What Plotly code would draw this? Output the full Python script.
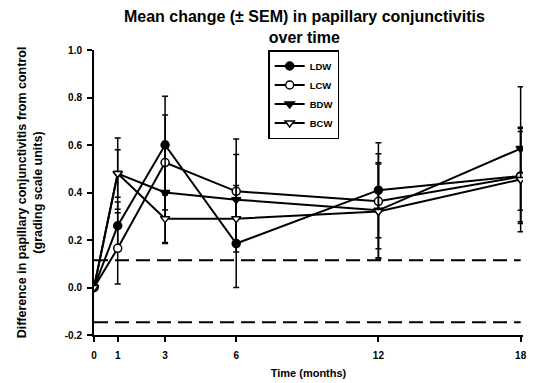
import plotly.graph_objects as go

months = [0, 1, 3, 6, 12, 18]
series_names = ["LDW", "LCW", "BDW", "BCW"]
ldw = [0.0, 0.26, 0.60, 0.185, 0.41, 0.47]
lcw = [0.0, 0.165, 0.526, 0.405, 0.363, 0.467]
bdw = [0.0, 0.48, 0.40, 0.37, 0.325, 0.585]
bcw = [0.0, 0.48, 0.29, 0.29, 0.32, 0.455]
ldw_sem = [0.0, 0.10, 0.205, 0.185, 0.20, 0.20]
lcw_sem = [0.0, 0.15, 0.20, 0.22, 0.20, 0.19]
bdw_sem = [0.0, 0.15, 0.215, 0.19, 0.20, 0.26]
bcw_sem = [0.0, 0.10, 0.10, 0.14, 0.20, 0.22]
upper_limit = 0.115
lower_limit = -0.146
y_ticks = [-0.2, 0.0, 0.2, 0.4, 0.6, 0.8, 1.0]
y_tick_labels = ["-0.2", "0.0", "0.2", "0.4", "0.6", "0.8", "1.0"]
x_ticks = [0, 1, 3, 6, 12, 18]

FONT = "Arial, Liberation Sans, sans-serif"
values = [ldw, lcw, bdw, bcw]
sems = [ldw_sem, lcw_sem, bdw_sem, bcw_sem]
symbols = ["circle", "circle", "triangle-down", "triangle-down"]
fills = ["black", "white", "black", "white"]

fig = go.Figure()
for name, v, s, sym, fc in zip(series_names, values, sems, symbols, fills):
    fig.add_trace(go.Scatter(
        x=months, y=v, name="<b>%s</b>" % name, mode="lines+markers",
        line=dict(color="black", width=2),
        marker=dict(symbol=sym, size=8, color=fc,
                    line=dict(color="black", width=1.5)),
        error_y=dict(type="data", array=s, visible=True, color="black",
                     thickness=1.5, width=3),
    ))

for yv in [upper_limit, lower_limit]:
    fig.add_trace(go.Scatter(
        x=[months[0], months[-1]], y=[yv, yv], mode="lines",
        line=dict(color="black", width=2, dash="14px,7px"),
        showlegend=False, hoverinfo="skip",
    ))

fig.update_layout(
    width=534, height=383,
    margin=dict(l=94, r=11, t=50, b=48),
    paper_bgcolor="white", plot_bgcolor="white",
    font=dict(family=FONT, color="black", size=10),
    title=dict(text="<b>Mean change (± SEM) in papillary conjunctivitis<br>over time</b>",
               x=0.57, xanchor="center", yref="container", y=0.942, yanchor="top",
               font=dict(size=16, family=FONT)),
    legend=dict(x=0.406, y=1.0, xanchor="left", yanchor="top",
                bordercolor="black", borderwidth=1.5, bgcolor="white",
                font=dict(size=9.5, family=FONT), itemwidth=30,
                tracegroupgap=0),
    showlegend=True,
)
fig.update_xaxes(
    range=[0, 18.1], tickvals=x_ticks, ticktext=["<b>%d</b>" % t for t in x_ticks],
    showline=True, linecolor="black", linewidth=2, ticks="outside",
    ticklen=5, tickwidth=2, tickcolor="black", showgrid=False, zeroline=False,
    tickfont=dict(size=10, family=FONT), ticklabelstandoff=5, automargin=False,
    title=dict(text="<b>Time (months)</b>", font=dict(size=11, family=FONT), standoff=9),
)
fig.update_yaxes(
    range=[-0.2, 1.0], tickvals=y_ticks, ticktext=["<b>%s</b>" % t for t in y_tick_labels],
    showline=True, linecolor="black", linewidth=2, ticks="outside",
    ticklen=5, tickwidth=2, tickcolor="black", showgrid=False, zeroline=False,
    tickfont=dict(size=10, family=FONT), ticklabelstandoff=3, automargin=False,
    title=dict(text="<b>Difference in papillary conjunctivitis from control<br>(grading scale units)</b>",
               font=dict(size=12.5, family=FONT), standoff=19),
)

fig.write_html("out.html")
